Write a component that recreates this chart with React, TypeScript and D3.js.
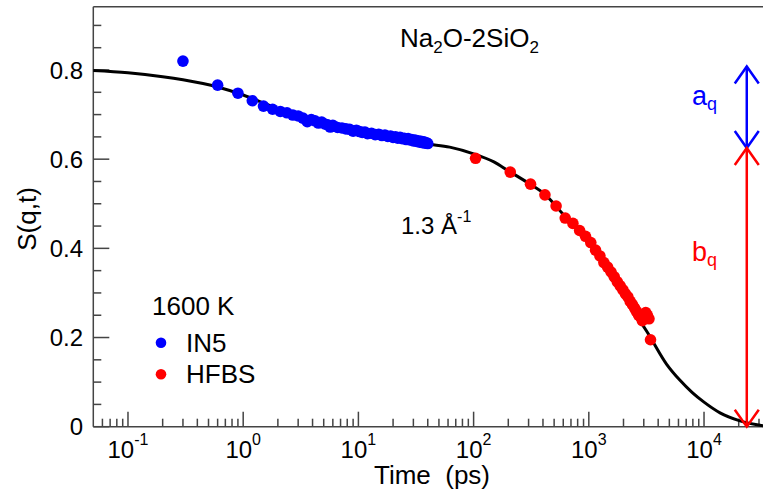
import React from "react";
import * as d3 from "d3";

// Fit curve
const curveT = [0.05, 0.1, 0.2, 0.3, 0.6, 1, 1.5, 2, 3, 4.6, 6, 8.5, 10, 15, 23, 40, 62, 100, 150, 200, 300, 420, 600, 1000, 1500, 2100, 3200, 4740, 6190, 7870, 10000, 13770, 20530, 32500];
const curveS = [0.799, 0.794, 0.785, 0.778, 0.762, 0.744, 0.726, 0.713, 0.694, 0.682, 0.673, 0.663, 0.659, 0.652, 0.645, 0.634, 0.627, 0.612, 0.594, 0.574, 0.546, 0.520, 0.476, 0.412, 0.340, 0.283, 0.213, 0.140, 0.104, 0.077, 0.055, 0.031, 0.013, 0.002];

// IN5 data
const in5T = [0.3, 0.6, 0.9, 1.2, 1.5, 1.8, 2.1, 2.4, 2.7, 3.0, 3.3, 3.6, 3.9, 4.2, 4.5, 4.8, 5.1, 5.4, 5.7, 6.0, 6.6, 7.2, 7.8, 8.4, 9.0, 9.6, 10.2, 10.8, 11.4, 12, 13, 14, 15, 16, 17, 18, 19, 20, 21, 22, 23, 24, 25, 26, 27, 28, 29, 30, 31, 32, 33, 34, 35, 36, 37, 38, 39, 40];
const in5S = [0.820, 0.766, 0.748, 0.731, 0.719, 0.712, 0.707, 0.704, 0.699, 0.697, 0.692, 0.684, 0.689, 0.686, 0.681, 0.683, 0.679, 0.677, 0.672, 0.676, 0.671, 0.670, 0.668, 0.667, 0.663, 0.665, 0.662, 0.660, 0.661, 0.657, 0.658, 0.655, 0.656, 0.653, 0.654, 0.651, 0.652, 0.649, 0.650, 0.647, 0.649, 0.646, 0.647, 0.644, 0.646, 0.643, 0.644, 0.641, 0.643, 0.640, 0.641, 0.638, 0.640, 0.637, 0.639, 0.636, 0.637, 0.635];

// HFBS data
const hfbsT = [104, 208, 312, 416, 520, 624, 728, 832, 936, 1040, 1144, 1248, 1352, 1456, 1560, 1664, 1768, 1872, 1976, 2080, 2184, 2288, 2392, 2496, 2600, 2704, 2808, 2912, 3016, 3120, 3224, 3328, 3432];
const hfbsS = [0.602, 0.571, 0.544, 0.520, 0.495, 0.468, 0.456, 0.440, 0.427, 0.413, 0.396, 0.383, 0.368, 0.358, 0.347, 0.336, 0.325, 0.316, 0.307, 0.298, 0.291, 0.281, 0.274, 0.266, 0.258, 0.250, 0.246, 0.238, 0.245, 0.256, 0.250, 0.242, 0.195];

// Axis ticks
const xMajor = [0.1, 1, 10, 100, 1000, 10000];
const xExp = ["-1", "0", "1", "2", "3", "4"];
const yMajor = [0, 0.2, 0.4, 0.6, 0.8];
const yLabels = ["0", "0.2", "0.4", "0.6", "0.8"];

// Arrow markers (a_q, b_q)
const arrowT = 23500;
const arrowLevels = [0.808, 0.625, 0];

const FONT = "'Liberation Sans', Arial, Helvetica, sans-serif";

export default function App() {
  const left = 93.3, right = 763, top = 6.7, bottom = 426.7;
  const x = d3.scaleLog().domain([0.05, 32500]).range([left, right]);
  const y = d3.scaleLinear().domain([0, 0.8]).range([bottom, 70]);

  const xMinor: number[] = [];
  for (let e = -2; e <= 4; e++) {
    for (let m = 2; m <= 9; m++) {
      const v = m * Math.pow(10, e);
      if (v > 0.05 && v < 32500) xMinor.push(v);
    }
  }
  const yMinor: number[] = [];
  for (let i = 1; i <= 18; i++) {
    const v = i * 0.05;
    if (i % 4 !== 0) yMinor.push(v);
  }

  const line = d3
    .line<number>()
    .x((_, i) => x(curveT[i]))
    .y((_, i) => y(curveS[i]))
    .curve(d3.curveMonotoneX);

  const ax = x(arrowT);
  const yTop = y(arrowLevels[0]);
  const yMid = y(arrowLevels[1]);
  const yBot = y(arrowLevels[2]);
  const hw = 12, hh = 17;

  const axisColor = "#444";

  return (
    <svg width={763} height={500} style={{ position: "absolute", left: 0, top: 0 }} fontFamily={FONT}>
      <rect x={0} y={0} width={763} height={500} fill="#fff" />
      {/* frame */}
      <line x1={left} y1={top} x2={right} y2={top} stroke={axisColor} strokeWidth={1.5} />
      <line x1={left} y1={top} x2={left} y2={bottom} stroke={axisColor} strokeWidth={1.5} />
      <line x1={left} y1={bottom} x2={right} y2={bottom} stroke={axisColor} strokeWidth={1.5} />

      {/* y ticks */}
      {yMajor.map((v, i) => (
        <g key={"ym" + i}>
          <line x1={left} x2={left + 16} y1={y(v)} y2={y(v)} stroke={axisColor} strokeWidth={1.5} />
          <text x={83} y={y(v)} dy="0.36em" textAnchor="end" fontSize={24} fill="#000">
            {yLabels[i]}
          </text>
        </g>
      ))}
      {yMinor.map((v, i) => (
        <line key={"yn" + i} x1={left} x2={left + 8} y1={y(v)} y2={y(v)} stroke={axisColor} strokeWidth={1.5} />
      ))}

      {/* x ticks */}
      {xMajor.map((v, i) => (
        <g key={"xm" + i}>
          <line x1={x(v)} x2={x(v)} y1={bottom} y2={bottom - 15} stroke={axisColor} strokeWidth={1.5} />
          <text x={x(v)} y={458} textAnchor="middle" fontSize={24} fill="#000">
            10
            <tspan fontSize={16} dy={-13}>{xExp[i]}</tspan>
          </text>
        </g>
      ))}
      {xMinor.map((v, i) => (
        <line key={"xn" + i} x1={x(v)} x2={x(v)} y1={bottom} y2={bottom - 8} stroke={axisColor} strokeWidth={1.5} />
      ))}

      {/* axis titles */}
      <text x={432} y={484} textAnchor="middle" fontSize={26} fill="#000" style={{ whiteSpace: "pre" }}>
        {"Time  (ps)"}
      </text>
      <text transform="translate(36,219) rotate(-90)" textAnchor="middle" fontSize={26} fill="#000">
        S(q,t)
      </text>

      {/* fit curve */}
      <path d={line(curveT) || ""} fill="none" stroke="#000" strokeWidth={3} />

      {/* data */}
      {in5T.map((t, i) => (
        <circle key={"b" + i} cx={x(t)} cy={y(in5S[i])} r={5.8} fill="#0000ff" />
      ))}
      {hfbsT.map((t, i) => (
        <circle key={"r" + i} cx={x(t)} cy={y(hfbsS[i])} r={5.8} fill="#ff0000" />
      ))}

      {/* arrows */}
      <g fill="none" strokeWidth={2.5}>
        <line x1={ax} x2={ax} y1={yTop} y2={yMid} stroke="#0000ff" />
        <polyline points={`${ax - hw},${yTop + hh} ${ax},${yTop} ${ax + hw},${yTop + hh}`} stroke="#0000ff" />
        <polyline points={`${ax - hw},${yMid - hh} ${ax},${yMid} ${ax + hw},${yMid - hh}`} stroke="#0000ff" />
        <line x1={ax} x2={ax} y1={yMid} y2={yBot} stroke="#ff0000" />
        <polyline points={`${ax - hw},${yMid + hh} ${ax},${yMid} ${ax + hw},${yMid + hh}`} stroke="#ff0000" />
        <polyline points={`${ax - hw},${yBot - hh} ${ax},${yBot} ${ax + hw},${yBot - hh}`} stroke="#ff0000" />
      </g>
      <text x={692} y={105} fontSize={27} fill="#0000ff">
        a<tspan fontSize={18} dy={5}>q</tspan>
      </text>
      <text x={692} y={261} fontSize={27} fill="#ff0000">
        b<tspan fontSize={18} dy={5}>q</tspan>
      </text>

      {/* annotations */}
      <text x={400} y={47} fontSize={26} fill="#000">
        Na<tspan fontSize={17} dy={6}>2</tspan>
        <tspan dy={-6}>O-2SiO</tspan>
        <tspan fontSize={17} dy={6}>2</tspan>
      </text>
      <text x={401} y={234} fontSize={24} fill="#000">
        1.3 Å<tspan fontSize={16} dy={-12}>-1</tspan>
      </text>

      {/* legend */}
      <text x={152} y={315} fontSize={26} fill="#000">1600 K</text>
      <circle cx={161} cy={342.7} r={5.3} fill="#0000ff" />
      <text x={186} y={351.7} fontSize={26} fill="#000">IN5</text>
      <circle cx={161} cy={374.3} r={5.3} fill="#ff0000" />
      <text x={186} y={383.3} fontSize={26} fill="#000">HFBS</text>
    </svg>
  );
}
